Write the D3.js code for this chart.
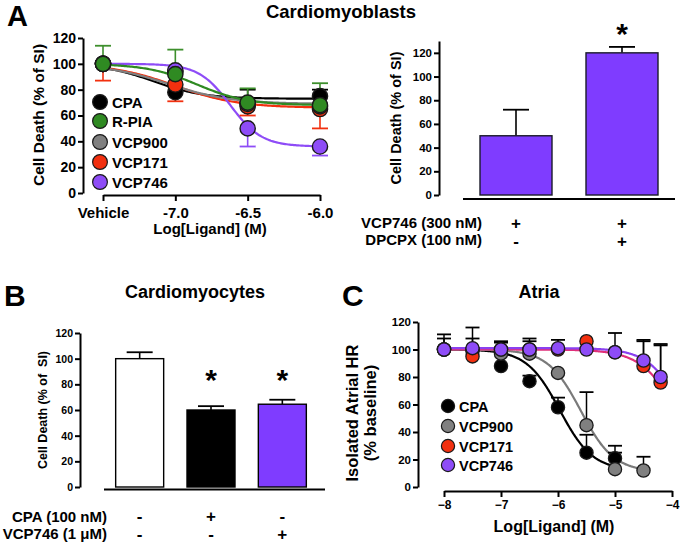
<!DOCTYPE html>
<html><head><meta charset="utf-8">
<script src="https://cdn.jsdelivr.net/npm/d3@7"></script>
<style>
body{margin:0;background:#fff}
text{font-family:"Liberation Sans",Arial,Helvetica,sans-serif;font-weight:bold;fill:#000}
</style>
</head><body><svg id="c" width="680" height="545"></svg>
<script>
// ---------- DATA ----------
// Panel A (left): cardiomyoblasts dose-response
const aXVals = [-7.5, -7.0, -6.5, -6.0];
const aXTicks = ["Vehicle", "-7.0", "-6.5", "-6.0"];
const aYTicks = [0, 20, 40, 60, 80, 100, 120];
const aNames = ["CPA", "R-PIA", "VCP900", "VCP171", "VCP746"];
const aCPA = [100, 78, 69, 75];
const aRPIA = [100, 92, 70, 68];
const aVCP900 = [100, 94, 69, 67];
const aVCP171 = [100, 84, 67, 65];
const aVCP746 = [100, 95, 50, 36];
// error bar ends (null = none)
const aErrCPA = [null, null, 80, 80];
const aErrRPIA = [114, 111, 81, 85];
const aErrVCP900 = [null, null, null, null];
const aErrVCP171 = [87, 71, 60, 50];
const aErrVCP746 = [null, null, 36, 29];
// fitted curves: [top, bottom, logEC50, hill]
const aFitCPA = [100, 73, -7.15, 2.5];
const aFitRPIA = [100, 68, -6.85, 2.5];
const aFitVCP900 = [100, 69, -7.05, 2.0];
const aFitVCP171 = [100, 66, -7.0, 2.0];
const aFitVCP746 = [100, 36, -6.62, 4.0];

// Panel A (right): bars
const a2Cats = ["g1", "g2"];
const a2Vals = [50, 120];
const a2Err = [72, 125];
const a2Row1 = ["+", "+"];
const a2Row2 = ["-", "+"];
const a2Stars = ["", "*"];

// Panel B: cardiomyocytes bars
const bCats = ["ctrl", "cpa", "vcp746"];
const bVals = [100, 60, 64.5];
const bErr = [105, 63, 68];
const bRow1 = ["-", "+", "-"];
const bRow2 = ["-", "-", "+"];
const bStars = ["", "*", "*"];

// Panel C: atria
const cXVals = [-8, -7.5, -7, -6.5, -6, -5.5, -5, -4.5, -4.2];
const cXTicks = [-8, -7, -6, -5, -4];
const cNames = ["CPA", "VCP900", "VCP171", "VCP746"];
const cCPA = [100, 99, 88, 77, 58, 25, 21, null, null];
const cVCP900 = [100, 100, 97, 97, 83, 45, 13, 12, null];
const cVCP171 = [100, 95, 100, 100, 100, 106, 98, 88, 76];
const cVCP746 = [100, 101, 100, 100, 101, 100, 98, 92, 80];
const cErrCPA = [null, null, null, 81, 65, 38, 30, null, null];
const cErrVCP900 = [null, null, null, null, null, 69, 25, 22, null];
const cErrVCP171 = [108, 108, 105, 106, null, null, null, 106, 103];
const cErrVCP746 = [111, 116, 106, 108, 107, null, 112, 107, 104];
const cFitCPA = [100, 12, -5.97, 1.5];
const cFitVCP900 = [100, 11, -5.6, 1.5];
const cFitVCP171 = [100, 0, -3.85, 1.3];
const cFitVCP746 = [101, 0, -3.75, 1.4];
const cFitEnd = [-5.0, -4.5, -4.2, -4.2];

// ---------- DRAW ----------
const svg = d3.select("#c");
const PURPLE = "#8e4cf7", RED = "#f2300f", GREEN = "#2f8a22", GRAY = "#808080";
const sig = (p, x) => p[1] + (p[0] - p[1]) / (1 + Math.pow(10, (x - p[2]) * p[3]));

function styleAxis(g, fs) {
  g.selectAll("path.domain").attr("stroke", "#000").attr("stroke-width", 2);
  g.selectAll(".tick line").attr("stroke", "#000").attr("stroke-width", 2);
  g.selectAll(".tick text").attr("font-size", fs).attr("font-family", "Liberation Sans,Arial,sans-serif").attr("font-weight", "bold").attr("fill", "#000");
}
function label(txt, x, y, fs, anchor, rot, weight) {
  const t = svg.append("text").attr("x", x).attr("y", y).attr("font-size", fs)
    .attr("text-anchor", anchor || "middle").text(txt);
  if (rot) t.attr("transform", `rotate(${rot},${x},${y})`);
  if (weight) t.attr("font-weight", weight);
  return t;
}

// Panel letters and titles
label("A", 7, 26, 29, "start", 0, "normal");
label("B", 4, 306, 30, "start", 0, "normal");
label("C", 342, 306, 30, "start", 0, "normal");
label("Cardiomyoblasts", 341, 18, 18.5);
label("Cardiomyocytes", 195, 298, 18);
label("Atria", 539, 298, 18);

// ===== Panel A left =====
{
  const x = d3.scaleLinear().domain([-7.5, -6.0]).range([103, 320]);
  const y = d3.scaleLinear().domain([0, 120]).range([193, 38]);
  const gy = svg.append("g").attr("transform", "translate(83,0)")
    .call(d3.axisLeft(y).tickValues(aYTicks).tickSize(5).tickSizeOuter(0).tickPadding(2));
  styleAxis(gy, 14);
  const gx = svg.append("g").attr("transform", "translate(0,195)")
    .call(d3.axisBottom(x).tickValues(aXVals).tickFormat((d, i) => aXTicks[i]).tickSize(6).tickSizeOuter(0).tickPadding(6));
  styleAxis(gx, 15);
  label("Cell Death (% of SI)", 44, 115, 15.5, "middle", -90);
  label("Log[Ligand] (M)", 210, 234, 15);

  const ser = [
    {v: aCPA, e: aErrCPA, f: aFitCPA, c: "#000", ec: "#000"},
    {v: aVCP171, e: aErrVCP171, f: aFitVCP171, c: RED, ec: RED},
    {v: aVCP900, e: aErrVCP900, f: aFitVCP900, c: GRAY, ec: GRAY},
    {v: aVCP746, e: aErrVCP746, f: aFitVCP746, c: PURPLE, ec: PURPLE},
    {v: aRPIA, e: aErrRPIA, f: aFitRPIA, c: GREEN, ec: "#3d8f2c"}
  ];
  ser.forEach(s => {
    const xs = d3.range(-7.5, -5.999, 0.01);
    svg.append("path").attr("fill", "none").attr("stroke", s.c).attr("stroke-width", 2.2)
      .attr("d", d3.line().x(d => x(d)).y(d => y(sig(s.f, d)))(xs));
  });
  ser.forEach(s => {
    s.e.forEach((e, i) => {
      if (e == null) return;
      const cx = x(aXVals[i]);
      svg.append("line").attr("x1", cx).attr("x2", cx).attr("y1", y(s.v[i])).attr("y2", y(e)).attr("stroke", s.ec).attr("stroke-width", 1.6);
      svg.append("line").attr("x1", cx - 8).attr("x2", cx + 8).attr("y1", y(e)).attr("y2", y(e)).attr("stroke", s.ec).attr("stroke-width", 1.8);
    });
  });
  ser.forEach(s => {
    s.v.forEach((v, i) => {
      svg.append("circle").attr("cx", x(aXVals[i])).attr("cy", y(v)).attr("r", 7.6)
        .attr("fill", s.c).attr("stroke", "#1a1a1a").attr("stroke-width", 1.4);
    });
  });
  // legend
  const legC = ["#000", GREEN, GRAY, RED, PURPLE];
  const legY = [102, 121, 142, 162, 182];
  aNames.forEach((n, i) => {
    svg.append("circle").attr("cx", 100).attr("cy", legY[i]).attr("r", 7.4).attr("fill", legC[i]).attr("stroke", "#1a1a1a").attr("stroke-width", 1.2);
    label(n, 112, legY[i] + 5.5, 15, "start");
  });
}

// ===== Panel A right =====
{
  const x = d3.scalePoint().domain(a2Cats).range([463, 675]).padding(0.5);
  const y = d3.scaleLinear().domain([0, 130]).range([195, 41]);
  const gy = svg.append("g").attr("transform", "translate(439,0)")
    .call(d3.axisLeft(y).tickValues([0, 20, 40, 60, 80, 100, 120]).tickSize(5).tickSizeOuter(0).tickPadding(2));
  styleAxis(gy, 11.5);
  label("Cell Death (% of SI)", 401, 118, 14.5, "middle", -90);
  svg.append("line").attr("x1", 463).attr("x2", 675).attr("y1", 199).attr("y2", 199).attr("stroke", "#000").attr("stroke-width", 2.2);
  a2Cats.forEach((c, i) => {
    const cx = x(c);
    svg.append("line").attr("x1", cx).attr("x2", cx).attr("y1", y(a2Vals[i])).attr("y2", y(a2Err[i])).attr("stroke", "#000").attr("stroke-width", 1.6);
    svg.append("line").attr("x1", cx - 13).attr("x2", cx + 13).attr("y1", y(a2Err[i])).attr("y2", y(a2Err[i])).attr("stroke", "#000").attr("stroke-width", 1.8);
    svg.append("rect").attr("x", cx - 36).attr("width", 72).attr("y", y(a2Vals[i])).attr("height", y(0) - y(a2Vals[i]))
      .attr("fill", "#7f3cff").attr("stroke", "#1a1a2a").attr("stroke-width", 1.4);
    label(a2Row1[i], cx, 229, 17);
    label(a2Row2[i], cx, 247, 17);
    if (a2Stars[i]) label(a2Stars[i], cx, 44, 30);
  });
  label("VCP746 (300 nM)", 482, 228, 15, "end");
  label("DPCPX (100 nM)", 482, 245, 15, "end");
}

// ===== Panel B =====
{
  const x = d3.scalePoint().domain(bCats).range([104, 318]).padding(0.5);
  const y = d3.scaleLinear().domain([0, 120]).range([487, 333]);
  const gy = svg.append("g").attr("transform", "translate(80,0)")
    .call(d3.axisLeft(y).tickValues([0, 20, 40, 60, 80, 100, 120]).tickSize(5).tickSizeOuter(0).tickPadding(2));
  styleAxis(gy, 10.5);
  label("Cell Death (% of  SI)", 47, 410, 12.5, "middle", -90).style("white-space", "pre");
  svg.append("line").attr("x1", 104).attr("x2", 325).attr("y1", 489.5).attr("y2", 489.5).attr("stroke", "#000").attr("stroke-width", 2.2);
  const fills = ["#fff", "#000", "#7f3cff"];
  bCats.forEach((c, i) => {
    const cx = x(c);
    svg.append("line").attr("x1", cx).attr("x2", cx).attr("y1", y(bVals[i])).attr("y2", y(bErr[i])).attr("stroke", "#000").attr("stroke-width", 1.6);
    svg.append("line").attr("x1", cx - 13).attr("x2", cx + 13).attr("y1", y(bErr[i])).attr("y2", y(bErr[i])).attr("stroke", "#000").attr("stroke-width", 1.8);
    svg.append("rect").attr("x", cx - 24).attr("width", 48).attr("y", y(bVals[i])).attr("height", y(0) - y(bVals[i]))
      .attr("fill", fills[i]).attr("stroke", "#000").attr("stroke-width", 1.4);
    label(bRow1[i], cx, 522, 17);
    label(bRow2[i], cx, 540, 17);
    if (bStars[i]) label(bStars[i], cx, 390, 30);
  });
  label("CPA (100 nM)", 107, 522, 15, "end");
  label("VCP746 (1 \u03bcM)", 107, 539, 15, "end");
}

// ===== Panel C =====
{
  const x = d3.scaleLinear().domain([-8, -4]).range([444, 672]);
  const y = d3.scaleLinear().domain([0, 120]).range([487, 322]);
  const gy = svg.append("g").attr("transform", "translate(418,0)")
    .call(d3.axisLeft(y).tickValues([0, 20, 40, 60, 80, 100, 120]).tickSize(5).tickSizeOuter(0).tickPadding(2));
  styleAxis(gy, 11.5);
  const gx = svg.append("g").attr("transform", "translate(0,491)")
    .call(d3.axisBottom(x).tickValues(cXTicks).tickFormat(d3.format("d")).tickSize(6).tickSizeOuter(0).tickPadding(3));
  styleAxis(gx, 12);
  label("Isolated Atrial HR", 358, 413, 16.5, "middle", -90);
  label("(% baseline)", 376, 413, 16.5, "middle", -90);
  label("Log[Ligand] (M)", 554, 532, 16);

  const ser = [
    {v: cCPA, e: cErrCPA, f: cFitCPA, end: cFitEnd[0], c: "#000", lc: "#000"},
    {v: cVCP900, e: cErrVCP900, f: cFitVCP900, end: cFitEnd[1], c: GRAY, lc: "#7a7a7a"},
    {v: cVCP171, e: cErrVCP171, f: cFitVCP171, end: cFitEnd[2], c: RED, lc: "#e0307a"},
    {v: cVCP746, e: cErrVCP746, f: cFitVCP746, end: cFitEnd[3], c: PURPLE, lc: "#8a40f0"}
  ];
  ser.forEach(s => {
    const xs = d3.range(-8, s.end + 0.0001, 0.01);
    svg.append("path").attr("fill", "none").attr("stroke", s.lc).attr("stroke-width", 2.2)
      .attr("d", d3.line().x(d => x(d)).y(d => y(sig(s.f, d)))(xs));
  });
  ser.forEach(s => {
    s.e.forEach((e, i) => {
      if (e == null || s.v[i] == null) return;
      const cx = x(cXVals[i]);
      svg.append("line").attr("x1", cx).attr("x2", cx).attr("y1", y(s.v[i])).attr("y2", y(e)).attr("stroke", "#000").attr("stroke-width", 1.5);
      svg.append("line").attr("x1", cx - 7).attr("x2", cx + 7).attr("y1", y(e)).attr("y2", y(e)).attr("stroke", "#000").attr("stroke-width", 1.8);
    });
  });
  ser.forEach(s => {
    s.v.forEach((v, i) => {
      if (v == null) return;
      svg.append("circle").attr("cx", x(cXVals[i])).attr("cy", y(v)).attr("r", 6.6)
        .attr("fill", s.c).attr("stroke", "#1a1a1a").attr("stroke-width", 1.3);
    });
  });
  const legC = ["#000", GRAY, RED, PURPLE];
  const legY = [406, 426, 446, 465];
  cNames.forEach((n, i) => {
    svg.append("circle").attr("cx", 448).attr("cy", legY[i]).attr("r", 6.6).attr("fill", legC[i]).attr("stroke", "#1a1a1a").attr("stroke-width", 1.2);
    label(n, 459, legY[i] + 5.5, 14.5, "start");
  });
}
</script></body></html>
